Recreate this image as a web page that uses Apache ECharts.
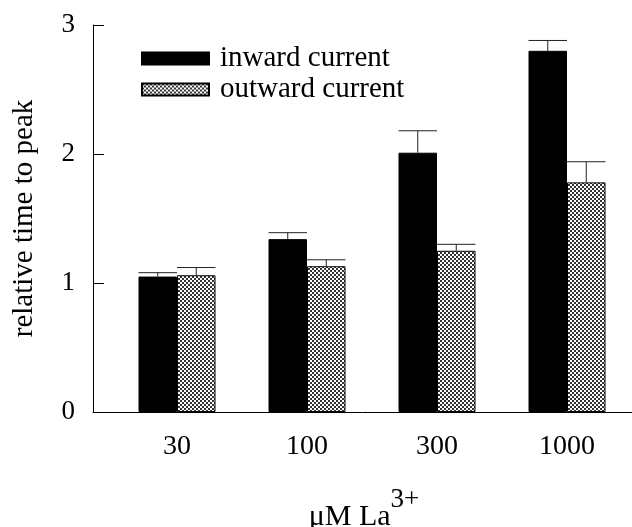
<!DOCTYPE html>
<html>
<head>
<meta charset="utf-8">
<script src="https://cdn.jsdelivr.net/npm/echarts@6/dist/echarts.min.js"></script>
<style>
  html, body { margin: 0; padding: 0; background: #fff; }
  #chart { width: 632px; height: 527px; }
</style>
</head>
<body>
<div id="chart"></div>
<script>
// data
var concentrations = ["30", "100", "300", "1000"];
var inwardMean = [1.05, 1.34, 2.01, 2.80];
var inwardErr = [0.03, 0.05, 0.17, 0.08];
var outwardMean = [1.06, 1.13, 1.25, 1.78];
var outwardErr = [0.06, 0.05, 0.05, 0.16];
var yTicks = [0, 1, 2, 3];

var FONT = "'Liberation Serif', 'DejaVu Serif', serif";
var BAR_W = 38.5;

// checkered fill used by the outward bars
function dotPattern() {
  var c = document.createElement("canvas");
  c.width = 4;
  c.height = 4;
  var ctx = c.getContext("2d");
  ctx.fillStyle = "#fff";
  ctx.fillRect(0, 0, 4, 4);
  ctx.fillStyle = "#333";
  ctx.fillRect(0, 0, 2, 2);
  ctx.fillRect(2, 2, 2, 2);
  return c;
}
var patternFill = { image: dotPattern(), repeat: "repeat" };

function errorSeries(name, means, errs, side) {
  return {
    name: name + " err",
    type: "custom",
    xAxisIndex: 1,
    yAxisIndex: 1,
    silent: true,
    z: 3,
    data: means.map(function (m, i) { return [i, m, m + errs[i]]; }),
    renderItem: function (params, api) {
      var base = api.coord([api.value(0), api.value(1)]);
      var top = api.coord([api.value(0), api.value(2)]);
      var cx = base[0] + side * BAR_W / 2;
      var style = { stroke: "#222", lineWidth: 1 };
      return {
        type: "group",
        children: [
          { type: "line", shape: { x1: cx, y1: base[1], x2: cx, y2: top[1] }, style: style },
          { type: "line", shape: { x1: cx - BAR_W / 2, y1: top[1], x2: cx + BAR_W / 2, y2: top[1] }, style: style }
        ]
      };
    }
  };
}

var chart = echarts.init(document.getElementById("chart"), null, { renderer: "canvas" });

var option = {
  backgroundColor: "#fff",
  animation: false,
  textStyle: { fontFamily: FONT, color: "#000" },
  grid: [
    { left: 93, right: 0, top: 25, bottom: 115, outerBoundsMode: "none" },
    { left: 112, right: 0, top: 25, bottom: 115, outerBoundsMode: "none" }
  ],
  legend: {
    orient: "vertical",
    left: 136,
    top: 39,
    icon: "rect",
    itemWidth: 67,
    itemHeight: 12,
    itemGap: 2,
    data: ["inward current", "outward current"],
    textStyle: { fontFamily: FONT, fontSize: 29, lineHeight: 29, color: "#000", padding: [0, 0, 0, 6] }
  },
  xAxis: [
    {
      gridIndex: 0,
      type: "value",
      min: 0,
      max: 1,
      axisLine: { show: true, lineStyle: { color: "#000", width: 1 } },
      axisTick: { show: false },
      axisLabel: { show: false },
      splitLine: { show: false }
    },
    {
      gridIndex: 1,
      type: "category",
      data: concentrations,
      axisLine: { show: false },
      axisTick: { show: false },
      axisLabel: { fontFamily: FONT, fontSize: 28, color: "#000", margin: 21 },
      name: "{b|\u03bcM La}{s|3+}",
      nameLocation: "middle",
      nameGap: 74,
      nameTextStyle: {
        rich: {
          b: { fontFamily: FONT, fontSize: 30, color: "#000", verticalAlign: "bottom", lineHeight: 46 },
          s: { fontFamily: FONT, fontSize: 27, color: "#000", verticalAlign: "top", lineHeight: 46, padding: [0, 16, 0, 0] }
        }
      }
    }
  ],
  yAxis: [
    {
      gridIndex: 0,
      type: "value",
      min: yTicks[0],
      max: yTicks[yTicks.length - 1],
      interval: 1,
      axisLine: { show: true, lineStyle: { color: "#000", width: 1 } },
      axisTick: { show: true, inside: true, length: 11, lineStyle: { color: "#000" } },
      axisLabel: { fontFamily: FONT, fontSize: 27, color: "#000", margin: 18 },
      splitLine: { show: false },
      name: "relative time to peak",
      nameLocation: "middle",
      nameGap: 54,
      nameTextStyle: { fontFamily: FONT, fontSize: 29, color: "#000" }
    },
    {
      gridIndex: 1,
      type: "value",
      min: 0,
      max: 3,
      show: false
    }
  ],
  series: [
    {
      name: "inward current",
      type: "bar",
      xAxisIndex: 1,
      yAxisIndex: 1,
      data: inwardMean,
      barWidth: BAR_W,
      barGap: "0%",
      itemStyle: { color: "#000", borderColor: "#000", borderWidth: 1 }
    },
    {
      name: "outward current",
      type: "bar",
      xAxisIndex: 1,
      yAxisIndex: 1,
      data: outwardMean,
      barWidth: BAR_W,
      barGap: "0%",
      itemStyle: { color: patternFill, borderColor: "#000", borderWidth: 1 }
    },
    errorSeries("inward", inwardMean, inwardErr, -1),
    errorSeries("outward", outwardMean, outwardErr, 1)
  ]
};

chart.setOption(option);
</script>
</body>
</html>
